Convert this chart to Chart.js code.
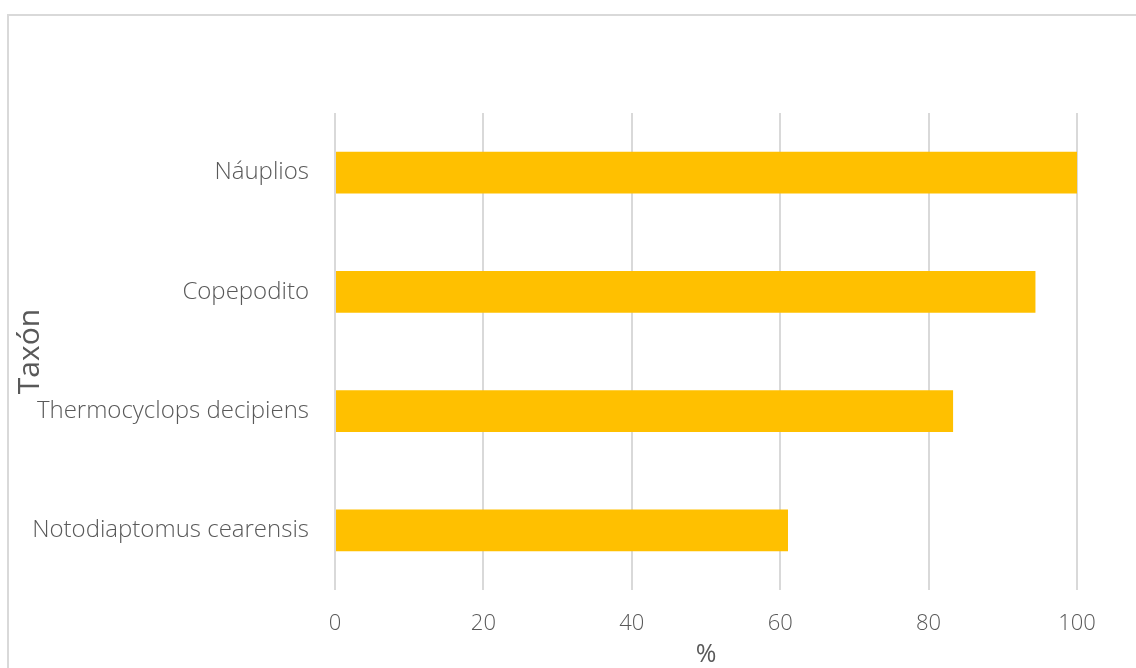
<!DOCTYPE html>
<html>
<head>
<meta charset="utf-8">
<script src="https://cdn.jsdelivr.net/npm/chart.js@4/dist/chart.umd.min.js"></script>
<style>
  html, body { margin: 0; padding: 0; background: #fff; overflow: hidden; }
  #wrap { position: relative; width: 1136px; height: 668px; }
  /* moldura do gráfico, corta nas bordas direita e inferior */
  #frame { position: absolute; left: 7px; top: 14px; width: 1200px; height: 700px;
           border: 2px solid #d9d9d9; box-sizing: border-box; }
  canvas { position: absolute; left: 0; top: 0; }
</style>
</head>
<body>
<div id="wrap">
  <div id="frame"></div>
  <canvas id="taxonChart" width="1136" height="668"></canvas>
</div>
<script>
// Dados do gráfico
const taxa = ['Náuplios', 'Copepodito', 'Thermocyclops decipiens', 'Notodiaptomus cearensis'];
const percentages = [100, 94.4, 83.3, 61.05];
const xTicks = [0, 20, 40, 60, 80, 100];

const labelColor = '#595959';
const fontFamily = "'Open Sans', sans-serif";

const ctx = document.getElementById('taxonChart').getContext('2d');

new Chart(ctx, {
    type: 'bar',
    data: {
        labels: taxa,
        datasets: [{
            label: '%',
            data: percentages,
            backgroundColor: '#ffc000',
            borderWidth: 0,
            categoryPercentage: 1,
            barPercentage: 0.35
        }]
    },
    options: {
        indexAxis: 'y',
        responsive: false,
        animation: false,
        layout: { padding: { top: 113, right: 59, bottom: 0, left: 0 } },
        plugins: {
            legend: { display: false },
            tooltip: { enabled: false }
        },
        scales: {
            x: {
                min: xTicks[0],
                max: xTicks[xTicks.length - 1],
                afterBuildTicks: scale => { scale.ticks = xTicks.map(v => ({ value: v })); },
                afterFit: scale => { scale.height = 78; },
                grid: { color: '#d9d9d9', lineWidth: 2, drawTicks: false },
                border: { display: false },
                ticks: {
                    padding: 21,
                    color: labelColor,
                    font: { family: fontFamily, size: 22, weight: 300 }
                },
                title: {
                    display: true,
                    text: '%',
                    color: labelColor,
                    font: { family: fontFamily, size: 25 },
                    padding: { top: 0, bottom: -2 }
                }
            },
            y: {
                afterFit: scale => { scale.width = 335; },
                grid: { display: false },
                border: { display: false },
                ticks: {
                    padding: 18,
                    color: labelColor,
                    font: { family: fontFamily, size: 24, weight: 300 }
                },
                title: {
                    display: true,
                    text: 'Taxón',
                    color: labelColor,
                    font: { family: fontFamily, size: 30 },
                    padding: { top: 12, bottom: 0 }
                }
            }
        }
    }
});
</script>
</body>
</html>
